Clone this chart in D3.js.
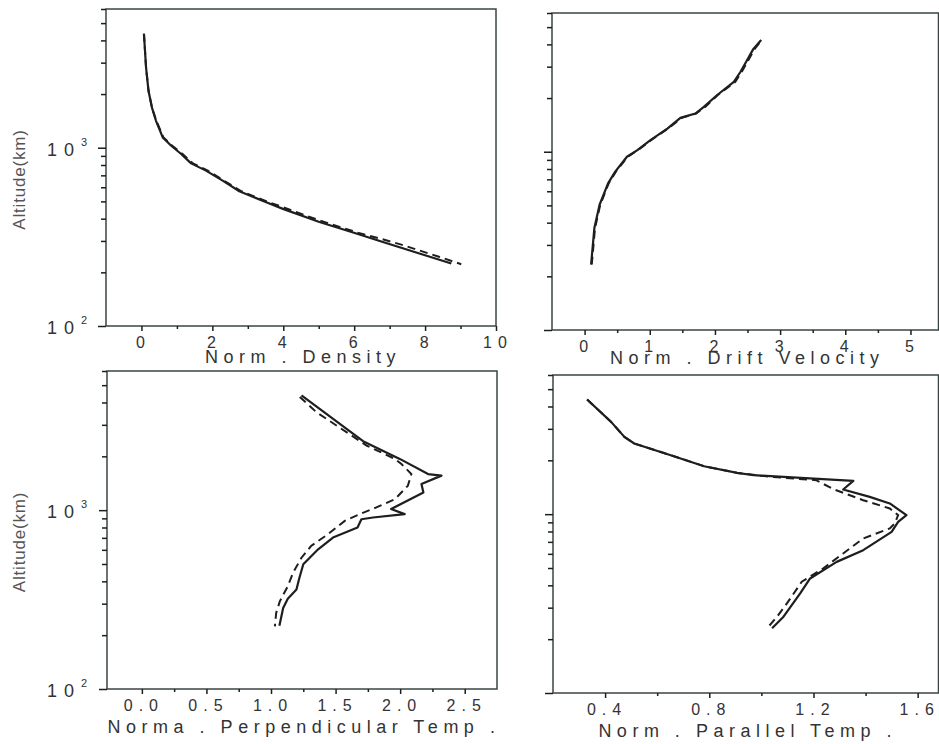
<!DOCTYPE html>
<html>
<head>
<meta charset="utf-8">
<script src="https://cdn.jsdelivr.net/npm/d3@7"></script>
<style>
  html, body { margin: 0; padding: 0; background: #fff; }
  svg { display: block; font-family: "Liberation Sans", Arial, sans-serif; }
</style>
</head>
<body>
<svg id="chart" width="939" height="744"></svg>
<script>
// Altitude (km) and normalised values
const densityAlt = [4360, 2810, 2080, 1667, 1416, 1143, 1026, 922, 817, 744, 654, 570, 494, 454, 383, 330, 296, 255, 224];
const densitySolid = [0.07, 0.13, 0.20, 0.30, 0.41, 0.60, 0.84, 1.12, 1.40, 1.82, 2.29, 2.76, 3.52, 3.99, 5.02, 6.06, 6.81, 7.84, 8.74];
const densityDashAlt = [4360, 2810, 2080, 1667, 1416, 1143, 1026, 922, 817, 744, 654, 570, 494, 464, 391, 334, 310, 286, 266, 244, 222];
const densityDash = [0.07, 0.13, 0.20, 0.30, 0.42, 0.62, 0.87, 1.16, 1.45, 1.87, 2.32, 2.82, 3.60, 3.99, 5.02, 6.10, 6.71, 7.33, 7.82, 8.41, 9.02];

const driftAlt = [233, 373, 504, 665, 773, 937, 1021, 1161, 1349, 1548, 1637, 1784, 2074, 2462, 2800, 3252, 3775, 4236];
const driftSolid = [0.10, 0.15, 0.23, 0.36, 0.47, 0.65, 0.81, 1.01, 1.27, 1.47, 1.70, 1.83, 2.03, 2.29, 2.39, 2.49, 2.59, 2.71];
const driftDash = [0.11, 0.16, 0.24, 0.37, 0.48, 0.66, 0.82, 1.02, 1.28, 1.49, 1.71, 1.85, 2.04, 2.31, 2.41, 2.51, 2.61, 2.72];

const perpSolidAlt = [4385, 2432, 1935, 1592, 1560, 1400, 1256, 1014, 950, 910, 890, 800, 703, 604, 498, 419, 360, 320, 284, 226];
const perpSolid = [1.236, 1.713, 1.997, 2.216, 2.32, 2.165, 2.18, 1.93, 2.035, 1.79, 1.70, 1.67, 1.48, 1.365, 1.25, 1.22, 1.197, 1.13, 1.094, 1.065];
const perpDashAlt = [4296, 3540, 2297, 1935, 1811, 1592, 1371, 1153, 1036, 950, 871, 733, 630, 542, 447, 376, 309, 266, 224];
const perpDash = [1.223, 1.35, 1.74, 1.96, 2.01, 2.087, 2.06, 1.96, 1.816, 1.687, 1.571, 1.44, 1.31, 1.236, 1.171, 1.13, 1.068, 1.04, 1.03];

const paraSolidAlt = [4376, 3281, 2705, 2483, 2137, 1854, 1701, 1651, 1535, 1374, 1250, 1148, 987, 906, 796, 629, 541, 437, 361, 267, 230];
const paraSolid = [0.331, 0.423, 0.474, 0.512, 0.652, 0.78, 0.907, 0.971, 1.353, 1.314, 1.416, 1.493, 1.557, 1.525, 1.50, 1.391, 1.289, 1.187, 1.149, 1.085, 1.041];
const paraDashAlt = [4376, 3281, 2705, 2483, 2137, 1854, 1701, 1620, 1549, 1381, 1197, 1076, 987, 888, 832, 731, 603, 498, 419, 317, 267, 230];
const paraDash = [0.331, 0.423, 0.474, 0.512, 0.652, 0.78, 0.907, 1.03, 1.21, 1.276, 1.391, 1.493, 1.525, 1.512, 1.493, 1.391, 1.314, 1.238, 1.155, 1.098, 1.06, 1.022];

// Axis ticks
const altMajor = [100, 1000];
const altMinor = [200, 300, 400, 500, 600, 700, 800, 900, 2000, 3000, 4000, 5000, 6000];
const altExponents = [2, 3];
const densityTicks = [0, 2, 4, 6, 8, 10];
const densityMinor = [1, 3, 5, 7, 9];
const driftTicks = [0, 1, 2, 3, 4, 5];
const driftMinor = [0.5, 1.5, 2.5, 3.5, 4.5];
const perpTicks = [0.0, 0.5, 1.0, 1.5, 2.0, 2.5];
const perpMinor = [0.25, 0.75, 1.25, 1.75, 2.25];
const paraTicks = [0.4, 0.8, 1.2, 1.6];
const paraMinor = [0.6, 1.0, 1.4];

const zip = (alt, v) => alt.map((a, i) => ({ alt: a, v: v[i] }));

// Panel layout (scan is slightly skewed, so each panel has its own box)
const panels = [
    { left: 106, right: 496, top: 9, bottom: 326, xDomain: [-1, 10], ticks: densityTicks, minor: densityMinor,
      fmt: d3.format('d'), title: 'Norm . Density', titleY: 363, yLabels: true,
      solid: zip(densityAlt, densitySolid), dash: zip(densityDashAlt, densityDash) },
    { left: 552, right: 938.5, top: 13, bottom: 330, xDomain: [-0.5, 5.43], ticks: driftTicks, minor: driftMinor,
      fmt: d3.format('d'), title: 'Norm . Drift Velocity', titleY: 364, yLabels: false,
      solid: zip(driftAlt, driftSolid), dash: zip(driftAlt, driftDash) },
    { left: 107, right: 497, top: 371, bottom: 689, xDomain: [-0.27, 2.75], ticks: perpTicks, minor: perpMinor,
      fmt: d3.format('.1f'), title: 'Norma . Perpendicular Temp .', titleY: 733, yLabels: true,
      solid: zip(perpSolidAlt, perpSolid), dash: zip(perpDashAlt, perpDash) },
    { left: 553, right: 938.5, top: 375, bottom: 693, xDomain: [0.2, 1.68], ticks: paraTicks, minor: paraMinor,
      fmt: d3.format('.1f'), title: 'Norm . Parallel Temp .', titleY: 737, yLabels: false,
      solid: zip(paraSolidAlt, paraSolid), dash: zip(paraDashAlt, paraDash) }
];

const svg = d3.select('#chart');
const ink = '#1e1e1e';
const textInk = '#333';

panels.forEach(p => {
    const x = d3.scaleLinear().domain(p.xDomain).range([p.left, p.right]);
    const y = d3.scaleLog().domain([100, 6000]).range([p.bottom, p.top]);
    const g = svg.append('g');

    // frame
    g.append('rect')
        .attr('x', p.left).attr('y', p.top)
        .attr('width', p.right - p.left).attr('height', p.bottom - p.top)
        .attr('fill', 'none').attr('stroke', '#3a4444').attr('stroke-width', 1.5);

    // y ticks (outward on the left)
    const yMajor = g.append('g').attr('transform', `translate(${p.left},0)`)
        .call(d3.axisLeft(y).tickValues(altMajor).tickSize(8).tickFormat(''));
    const yMinor = g.append('g').attr('transform', `translate(${p.left},0)`)
        .call(d3.axisLeft(y).tickValues(altMinor).tickSize(5).tickFormat(''));

    // x ticks (outward below)
    const xMajor = g.append('g').attr('transform', `translate(0,${p.bottom})`)
        .call(d3.axisBottom(x).tickValues(p.ticks).tickSize(5).tickFormat(''));
    const xMinor = g.append('g').attr('transform', `translate(0,${p.bottom})`)
        .call(d3.axisBottom(x).tickValues(p.minor).tickSize(3).tickFormat(''));

    [yMajor, yMinor, xMajor, xMinor].forEach(a => {
        a.select('.domain').remove();
        a.selectAll('line').attr('stroke', ink).attr('stroke-width', 1.5);
    });

    // x tick labels, spaced out like the typewriter-style original
    g.selectAll('.xlab')
        .data(p.ticks)
        .enter()
        .append('text')
        .attr('class', 'xlab')
        .attr('x', d => x(d) + 2)
        .attr('y', p.bottom + 22)
        .attr('text-anchor', 'middle')
        .style('font-size', '16px')
        .style('letter-spacing', '6px')
        .attr('fill', textInk)
        .text(d => p.fmt(d));

    // x title
    g.append('text')
        .attr('x', (p.left + p.right) / 2 + 2)
        .attr('y', p.titleY)
        .attr('text-anchor', 'middle')
        .style('font-size', '18px')
        .style('letter-spacing', '5.5px')
        .attr('fill', textInk)
        .text(p.title);

    if (p.yLabels) {
        const lab = g.selectAll('.ylab')
            .data(altMajor)
            .enter()
            .append('text')
            .attr('class', 'ylab')
            .attr('x', 47)
            .attr('y', d => y(d) + 8)
            .style('font-size', '18px')
            .style('letter-spacing', '7px')
            .attr('fill', textInk)
            .text('10');
        lab.append('tspan')
            .attr('dy', -10)
            .style('font-size', '11px')
            .style('letter-spacing', '0px')
            .text((d, i) => altExponents[i]);

        const cy = (p.top + p.bottom) / 2 + 12;
        g.append('text')
            .attr('transform', `translate(25,${cy}) rotate(-90)`)
            .attr('text-anchor', 'middle')
            .style('font-size', '17px')
            .style('letter-spacing', '0.8px')
            .attr('fill', '#555')
            .text('Altitude(km)');
    }

    const line = d3.line().x(d => x(d.v)).y(d => y(d.alt));

    g.append('path')
        .datum(p.dash)
        .attr('d', line)
        .attr('fill', 'none')
        .attr('stroke', ink)
        .attr('stroke-width', 2)
        .attr('stroke-dasharray', '8,5');

    g.append('path')
        .datum(p.solid)
        .attr('d', line)
        .attr('fill', 'none')
        .attr('stroke', ink)
        .attr('stroke-width', 2.2)
        .attr('stroke-linejoin', 'round');
});
</script>
</body>
</html>
